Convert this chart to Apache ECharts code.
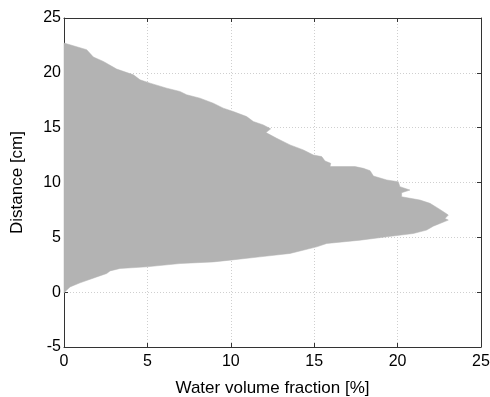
<!DOCTYPE html>
<html>
<head>
<meta charset="utf-8">
<script src="https://cdn.jsdelivr.net/npm/echarts@6/dist/echarts.min.js"></script>
<style>
html,body{margin:0;padding:0;background:#fff;}
#chart{width:490px;height:397px;}
</style>
</head>
<body>
<div id="chart"></div>
<script>
// Boundary of the water volume fraction profile, from top (y≈22.7 cm) down to y≈0
const waterFraction = [0, 1.36, 1.76, 2.36, 3.16, 4.16, 4.56, 5.16, 6.16, 6.95, 7.35, 8.15, 8.95, 9.55, 10.15, 10.95, 11.35, 11.95, 12.39, 12.11, 12.75, 13.55, 14.35, 14.95, 15.45, 15.65, 15.99, 15.95, 17.45, 17.95, 18.35, 18.55, 19.35, 20.04, 20.14, 20.74, 20.24, 20.24, 21.34, 21.94, 22.44, 22.84, 23.04, 22.84, 23.04, 22.14, 21.74, 20.94, 19.35, 17.75, 15.75, 15.15, 13.55, 11.75, 9.95, 8.95, 6.95, 4.96, 3.36, 2.76, 2.56, 1.96, 0.96, 0.36, 0.12, 0];
const distance = [22.72, 22.11, 21.44, 21.04, 20.34, 19.82, 19.36, 19.06, 18.6, 18.3, 18.0, 17.69, 17.23, 16.78, 16.47, 16.01, 15.56, 15.25, 14.89, 14.55, 14.03, 13.43, 12.97, 12.51, 12.36, 11.96, 11.75, 11.45, 11.45, 11.29, 11.08, 10.59, 10.23, 10.07, 9.62, 9.31, 9.07, 8.70, 8.40, 8.10, 7.64, 7.24, 7.03, 6.72, 6.57, 6.02, 5.66, 5.35, 5.05, 4.74, 4.44, 4.13, 3.53, 3.22, 2.92, 2.76, 2.61, 2.31, 2.16, 1.94, 1.70, 1.39, 0.85, 0.48, 0.12, -0.07];
const xTicks = [0, 5, 10, 15, 20, 25];
const yTicks = [-5, 0, 5, 10, 15, 20, 25];

const points = waterFraction.map((x, i) => [x, distance[i]]);

const font = 'Liberation Sans, Arial, Helvetica, sans-serif';
const axisColor = '#333';
const gridLine = {show: true, lineStyle: {color: '#cfcfcf', type: [1, 2], width: 1}};

const chart = echarts.init(document.getElementById('chart'), null, {renderer: 'canvas'});
chart.setOption({
  animation: false,
  backgroundColor: '#fff',
  grid: {left: 64, right: 9, top: 18, bottom: 50, containLabel: false, outerBoundsMode: 'none'},
  xAxis: [{
    type: 'value', min: xTicks[0], max: xTicks[xTicks.length - 1], interval: 5,
    name: 'Water volume fraction [%]', nameLocation: 'middle', nameGap: 33,
    nameTextStyle: {fontFamily: font, fontSize: 17, color: '#000'},
    axisLine: {show: true, onZero: false, lineStyle: {color: axisColor, width: 1}},
    axisTick: {show: true, inside: true, length: 4, lineStyle: {color: axisColor}},
    axisLabel: {fontFamily: font, fontSize: 16, color: '#000', margin: 7},
    splitLine: gridLine
  }, {
    type: 'value', position: 'top', min: xTicks[0], max: xTicks[xTicks.length - 1], interval: 5,
    axisLine: {show: true, onZero: false, lineStyle: {color: axisColor, width: 1}},
    axisTick: {show: true, inside: true, length: 4, lineStyle: {color: axisColor}},
    axisLabel: {show: false}, splitLine: {show: false}
  }],
  yAxis: [{
    type: 'value', min: yTicks[0], max: yTicks[yTicks.length - 1], interval: 5,
    name: 'Distance [cm]', nameLocation: 'middle', nameGap: 38, nameRotate: 90,
    nameTextStyle: {fontFamily: font, fontSize: 17, color: '#000'},
    axisLine: {show: true, onZero: false, lineStyle: {color: axisColor, width: 1}},
    axisTick: {show: true, inside: true, length: 4, lineStyle: {color: axisColor}},
    axisLabel: {fontFamily: font, fontSize: 16, color: '#000', margin: 3},
    splitLine: gridLine
  }, {
    type: 'value', position: 'right', min: yTicks[0], max: yTicks[yTicks.length - 1], interval: 5,
    axisLine: {show: true, onZero: false, lineStyle: {color: axisColor, width: 1}},
    axisTick: {show: true, inside: true, length: 4, lineStyle: {color: axisColor}},
    axisLabel: {show: false}, splitLine: {show: false}
  }],
  series: [{
    type: 'custom',
    coordinateSystem: 'cartesian2d',
    xAxisIndex: 0, yAxisIndex: 0,
    data: points,
    z: 1,
    renderItem: function (params, api) {
      if (params.dataIndex !== 0) return null;
      const pts = points.map(p => api.coord(p));
      // close polygon along x = 0
      pts.push(api.coord([0, distance[distance.length - 1]]));
      pts.push(api.coord([0, distance[0]]));
      return {
        type: 'polygon',
        shape: {points: pts},
        style: {fill: '#b3b3b3', stroke: '#b3b3b3', lineWidth: 0.5}
      };
    }
  }]
});
</script>
</body>
</html>
